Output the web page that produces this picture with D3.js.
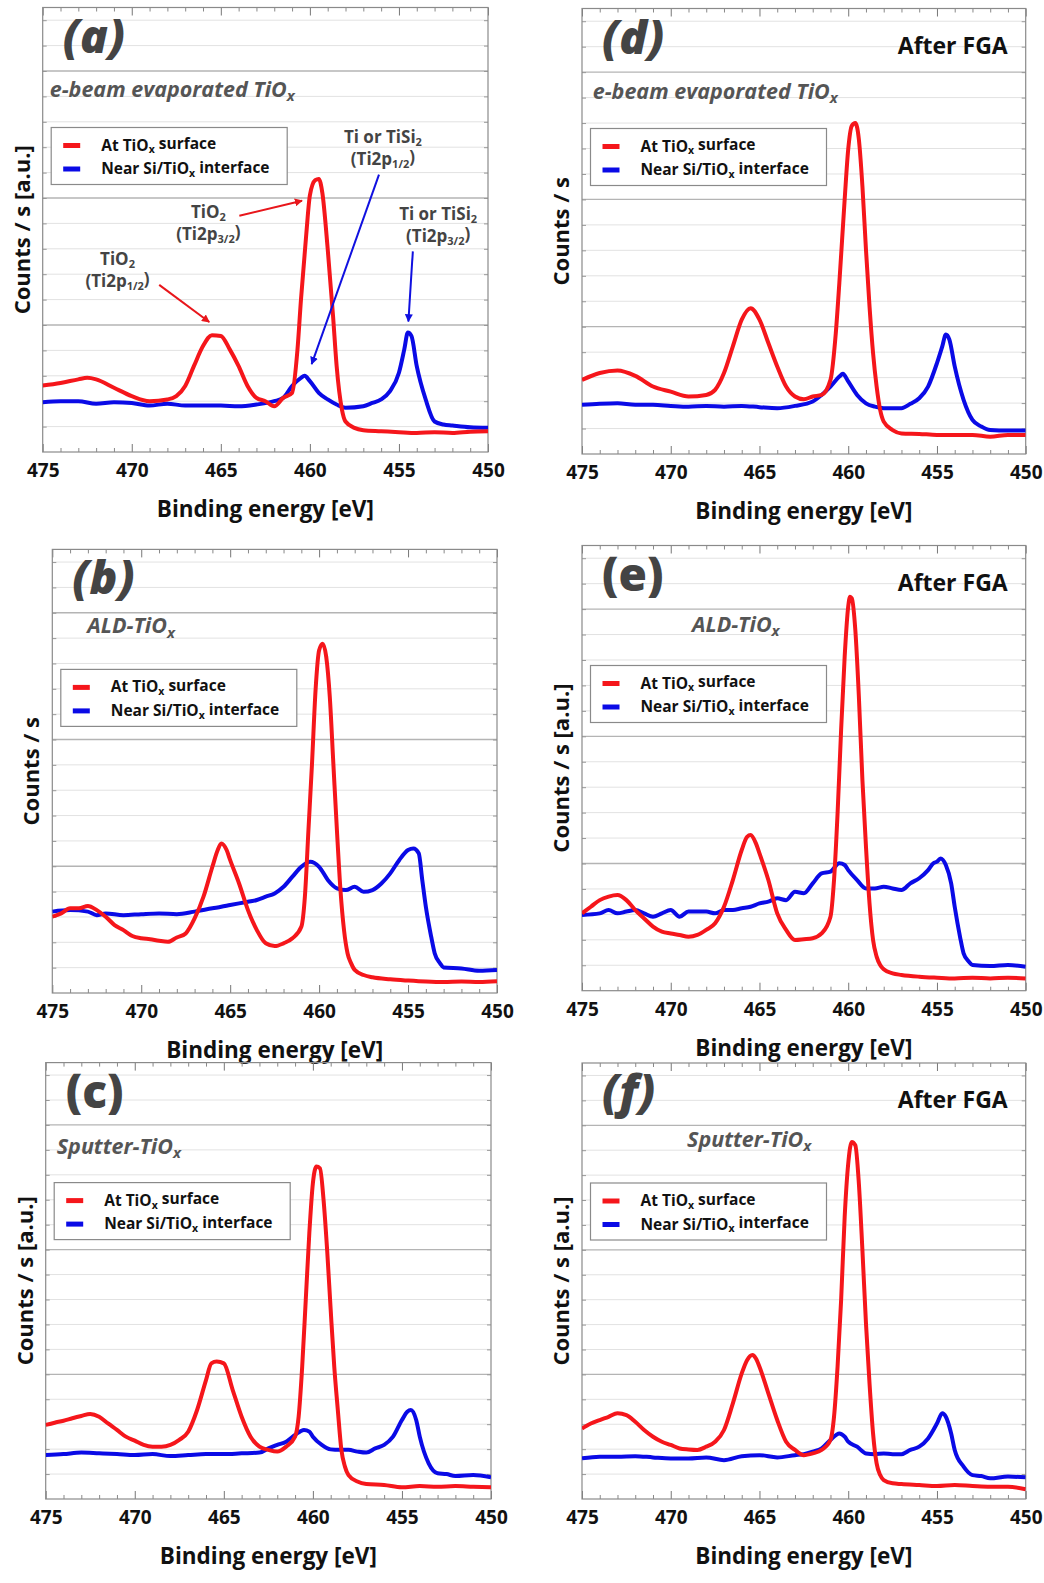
<!DOCTYPE html>
<html><head><meta charset="utf-8">
<script src="https://cdn.jsdelivr.net/npm/d3@7"></script>
<style>body{margin:0;background:#fff}</style>
</head><body><svg id="chart" width="1044" height="1583"></svg>
<script>
// ---------- data (binding energy eV, intensity in grid units) ----------
const energyTicks = [475, 470, 465, 460, 455, 450];
const seriesLabels = [["At TiO", "x", " surface"], ["Near Si/TiO", "x", " interface"]];

const surfaceA = [[475,2.62],[474,2.72],[473,2.86],[472.5,2.92],[472,2.86],[471,2.53],[470,2.2],[469,2.0],[468,2.07],[467.5,2.2],[467,2.6],[466.5,3.4],[466,4.17],[465.5,4.6],[465,4.57],[464.5,4.04],[464,3.38],[463.5,2.6],[463,2.13],[462.5,2.0],[462,1.8],[461.5,2.13],[461,2.33],[460.7,4.0],[460.5,6.0],[460.2,8.6],[460,10.1],[459.7,10.7],[459.5,10.75],[459.3,10.2],[459,8.0],[458.7,5.36],[458.5,3.4],[458.2,1.67],[458,1.2],[457.5,0.95],[457,0.86],[456,0.82],[455,0.78],[454,0.75],[453,0.78],[452,0.75],[451,0.8],[450,0.82]];
const interfaceA = [[475,1.96],[474,2.0],[473,2.0],[472,1.9],[471,1.96],[470,1.93],[469,1.83],[468,1.9],[467,1.83],[466,1.83],[465,1.83],[464,1.8],[463,1.87],[462,2.0],[461.5,2.13],[461,2.6],[460.5,2.92],[460.3,3.0],[460,2.79],[459.5,2.33],[459,2.07],[458.5,1.87],[458,1.74],[457,1.8],[456.5,1.93],[456,2.07],[455.5,2.4],[455,3.12],[454.7,4.04],[454.5,4.7],[454.3,4.57],[454,3.38],[453.5,2.07],[453,1.2],[452.5,1.08],[452,1.04],[451,0.97],[450,0.95]];

const surfaceB = [[475,3.01],[474.5,3.14],[474,3.34],[473.5,3.34],[473,3.43],[472.5,3.27],[472,3.01],[471.5,2.68],[471,2.48],[470.5,2.25],[470,2.16],[469.5,2.12],[469,2.06],[468.5,2.02],[468,2.19],[467.5,2.35],[467,2.94],[466.5,3.8],[466,4.98],[465.7,5.64],[465.5,5.9],[465.2,5.64],[465,5.24],[464.5,4.32],[464,3.27],[463.5,2.48],[463,1.96],[462.5,1.85],[462,1.96],[461.5,2.16],[461,2.61],[460.8,3.8],[460.6,6.43],[460.4,9.05],[460.2,11.95],[460,13.52],[459.8,13.78],[459.6,13.26],[459.4,11.68],[459.2,9.05],[459,6.43],[458.8,4.06],[458.6,2.48],[458.4,1.56],[458.2,1.17],[458,0.91],[457.5,0.71],[457,0.62],[456,0.54],[455,0.49],[454,0.45],[453,0.43],[452,0.45],[451,0.43],[450,0.46]];
const interfaceB = [[475,3.21],[474,3.27],[473,3.21],[472.5,3.07],[472,3.14],[471,3.07],[470,3.11],[469,3.14],[468,3.11],[467,3.21],[466,3.34],[465.5,3.4],[465,3.47],[464,3.6],[463.5,3.67],[463,3.8],[462.5,3.93],[462,4.19],[461.5,4.59],[461,4.98],[460.5,5.18],[460,4.98],[459.5,4.45],[459,4.13],[458.5,4.06],[458,4.19],[457.5,3.99],[457,4.06],[456.5,4.32],[456,4.72],[455.5,5.24],[455,5.64],[454.7,5.7],[454.4,5.51],[454.2,4.45],[454,3.4],[453.7,2.22],[453.5,1.56],[453.2,1.17],[453,1.01],[452,0.97],[451,0.88],[450,0.91]];

const surfaceC = [[475,2.97],[474.5,3.06],[474,3.14],[473.5,3.24],[473,3.33],[472.5,3.41],[472,3.3],[471.5,3.03],[471,2.77],[470.5,2.5],[470,2.34],[469.5,2.17],[469,2.1],[468.5,2.1],[468,2.17],[467.5,2.37],[467,2.7],[466.5,3.57],[466,4.77],[465.7,5.44],[465.4,5.51],[465,5.44],[464.5,4.37],[464,3.3],[463.5,2.5],[463,2.1],[462.5,1.97],[462,1.9],[461.5,2.1],[461,2.5],[460.8,3.3],[460.6,5.31],[460.4,7.98],[460.2,10.66],[460,12.66],[459.8,13.33],[459.6,13.26],[459.4,11.99],[459.2,9.99],[459,7.58],[458.8,5.31],[458.6,3.57],[458.4,1.97],[458.2,1.3],[458,0.96],[457.5,0.7],[457,0.6],[456,0.56],[455,0.47],[454,0.52],[453,0.49],[452,0.52],[451,0.49],[450,0.47]];
const interfaceC = [[475,1.76],[474,1.8],[473,1.86],[472,1.83],[471,1.8],[470,1.76],[469,1.8],[468,1.72],[467,1.76],[466,1.8],[465,1.8],[464,1.83],[463,1.86],[462.5,2.03],[462,2.17],[461.5,2.3],[461,2.57],[460.5,2.77],[460.2,2.7],[460,2.5],[459.5,2.17],[459,1.99],[458.5,1.97],[458,1.97],[457.5,1.9],[457,1.86],[456.5,2.03],[456,2.17],[455.5,2.5],[455,3.17],[454.7,3.5],[454.5,3.57],[454.2,3.17],[454,2.5],[453.5,1.43],[453,1.03],[452.5,1.0],[452,0.92],[451,0.96],[450,0.87]];

const surfaceD = [[475,2.91],[474,3.18],[473,3.28],[472,3.07],[471,2.65],[470,2.45],[469,2.26],[468,2.32],[467.5,2.52],[467,3.18],[466.5,4.23],[466,5.28],[465.5,5.73],[465,5.28],[464.5,4.36],[464,3.44],[463.5,2.65],[463,2.26],[462.5,2.15],[462,2.26],[461.5,2.32],[461,2.91],[460.7,4.75],[460.5,6.72],[460.2,10.0],[460,11.97],[459.8,12.89],[459.6,13.0],[459.4,12.36],[459.2,10.52],[459,8.03],[458.8,5.8],[458.6,3.96],[458.4,2.65],[458.2,1.73],[458,1.27],[457.5,0.94],[457,0.81],[456,0.79],[455,0.75],[454,0.75],[453,0.75],[452,0.68],[451,0.75],[450,0.75]];
const interfaceD = [[475,1.93],[474,1.97],[473,1.99],[472,1.93],[471,1.93],[470,1.89],[469,1.86],[468,1.89],[467,1.86],[466,1.89],[465,1.84],[464,1.8],[463,1.89],[462,2.06],[461.5,2.32],[461,2.65],[460.5,3.04],[460.3,3.15],[460,2.85],[459.5,2.32],[459,1.99],[458.5,1.86],[458,1.8],[457,1.8],[456.5,1.97],[456,2.19],[455.5,2.65],[455,3.57],[454.7,4.23],[454.5,4.69],[454.3,4.49],[454,3.44],[453.5,2.13],[453,1.34],[452.5,1.08],[452,0.94],[451,0.92],[450,0.92]];

const surfaceE = [[475,3.04],[474.5,3.3],[474,3.56],[473.5,3.7],[473,3.76],[472.5,3.56],[472,3.17],[471.5,2.84],[471,2.52],[470.5,2.32],[470,2.25],[469.5,2.19],[469,2.12],[468.5,2.19],[468,2.39],[467.5,2.65],[467,3.3],[466.5,4.35],[466,5.53],[465.7,6.05],[465.5,6.12],[465.2,5.79],[465,5.4],[464.5,4.35],[464,3.04],[463.5,2.39],[463,1.99],[462.5,2.02],[462,2.06],[461.5,2.25],[461,2.91],[460.8,4.35],[460.6,6.97],[460.4,10.25],[460.2,13.13],[460,15.1],[459.9,15.49],[459.8,15.43],[459.6,14.18],[459.4,11.56],[459.2,8.28],[459,5.66],[458.8,3.43],[458.6,1.99],[458.4,1.34],[458.2,1.01],[458,0.84],[457.5,0.68],[457,0.62],[456,0.55],[455,0.51],[454,0.48],[453,0.51],[452,0.48],[451,0.51],[450,0.48]];
const interfaceE = [[475,2.98],[474,3.04],[473.5,3.17],[473,3.04],[472.5,3.11],[472,3.17],[471.5,3.04],[471,2.91],[470.5,3.04],[470,3.17],[469.5,2.91],[469,3.11],[468,3.11],[467.5,3.04],[467,3.17],[466.5,3.17],[466,3.24],[465.5,3.3],[465,3.43],[464.5,3.5],[464,3.63],[463.5,3.56],[463,3.89],[462.5,3.83],[462,4.22],[461.5,4.61],[461,4.68],[460.5,5.01],[460.2,4.94],[460,4.74],[459.5,4.35],[459,4.02],[458.5,4.02],[458,4.09],[457.5,4.02],[457,3.96],[456.5,4.22],[456,4.42],[455.5,4.74],[455.2,5.01],[455,5.07],[454.8,5.2],[454.5,4.94],[454.2,4.22],[454,3.3],[453.7,2.12],[453.5,1.47],[453.2,1.14],[453,1.01],[452,0.97],[451,1.01],[450,0.94]];

const surfaceF = [[475,2.83],[474.5,3.03],[474,3.17],[473.5,3.3],[473,3.44],[472.5,3.37],[472,3.1],[471.5,2.77],[471,2.5],[470.5,2.3],[470,2.17],[469.5,2.03],[469,1.99],[468.5,1.97],[468,2.1],[467.5,2.3],[467,2.77],[466.5,3.84],[466,5.04],[465.7,5.57],[465.4,5.78],[465.2,5.64],[465,5.31],[464.5,4.24],[464,3.17],[463.5,2.3],[463,1.97],[462.5,1.76],[462,1.83],[461.5,1.97],[461,2.37],[460.8,3.3],[460.6,5.31],[460.4,7.98],[460.2,11.32],[460,13.46],[459.8,14.33],[459.6,14.2],[459.4,12.66],[459.2,9.99],[459,7.05],[458.8,4.64],[458.6,2.63],[458.4,1.43],[458.2,0.96],[458,0.76],[457.5,0.63],[457,0.6],[456,0.56],[455,0.52],[454,0.56],[453,0.52],[452,0.49],[451,0.49],[450,0.39]];
const interfaceF = [[475,1.63],[474,1.7],[473,1.7],[472,1.72],[471,1.67],[470,1.63],[469,1.63],[468,1.67],[467,1.56],[466,1.72],[465,1.76],[464,1.67],[463,1.76],[462.5,1.8],[462,1.9],[461.5,2.03],[461,2.37],[460.5,2.63],[460.2,2.5],[460,2.3],[459.5,2.1],[459,1.83],[458.5,1.8],[458,1.83],[457.5,1.8],[457,1.8],[456.5,1.97],[456,2.1],[455.5,2.43],[455,3.03],[454.7,3.44],[454.5,3.3],[454.2,2.63],[454,1.97],[453.5,1.3],[453,0.96],[452.5,0.92],[452,0.83],[451,0.9],[450,0.87]];

// annotations for panel (a): [energy, level]
const annotTexts = [
  {lines:[["Ti or TiSi","2",""],["(Ti2p","1/2",")"]], at:[455.9,12.18]},
  {lines:[["TiO","2",""],["(Ti2p","3/2",")"]], at:[465.7,9.22]},
  {lines:[["TiO","2",""],["(Ti2p","1/2",")"]], at:[470.8,7.37]},
  {lines:[["Ti or TiSi","2",""],["(Ti2p","3/2",")"]], at:[452.8,9.14]}
];
const annotArrows = [
  {from:[468.46,6.58], to:[465.65,5.12], c:"red"},
  {from:[463.96,9.30], to:[460.44,9.89], c:"red"},
  {from:[456.12,10.92], to:[459.9,3.46], c:"blue"},
  {from:[454.22,7.9], to:[454.47,5.14], c:"blue"}
];

// ---------- layout ----------
const FONT = "'Open Sans', Lato, 'DejaVu Sans', sans-serif";
const panels = [
  {id:"a", s:surfaceA, i:interfaceA, L:42.7, R:488, T:7.5, B:452, italic:true, sub:"e-beam evaporated TiO", subX:7, subY:89, yt:"Counts / s [a.u.]", fga:false, ann:true},
  {id:"b", s:surfaceB, i:interfaceB, L:52.3, R:497, T:549.4, B:993, italic:true, sub:"ALD-TiO", subX:35, subY:84, yt:"Counts / s", fga:false},
  {id:"c", s:surfaceC, i:interfaceC, L:45.7, R:491, T:1062.6, B:1499, italic:false, sub:"Sputter-TiO", subX:11, subY:91, yt:"Counts / s [a.u.]", fga:false},
  {id:"d", s:surfaceD, i:interfaceD, L:582, R:1025.7, T:8.5, B:454, italic:true, sub:"e-beam evaporated TiO", subX:10.7, subY:90, yt:"Counts / s", fga:true},
  {id:"e", s:surfaceE, i:interfaceE, L:582, R:1025.7, T:545.5, B:990.7, italic:false, sub:"ALD-TiO", subX:110, subY:86, yt:"Counts / s [a.u.]", fga:true},
  {id:"f", s:surfaceF, i:interfaceF, L:582, R:1025.7, T:1063, B:1499, italic:true, sub:"Sputter-TiO", subX:105, subY:84, yt:"Counts / s [a.u.]", fga:true}
];

const svg = d3.select("#chart").style("font-family", FONT);
svg.append("rect").attr("width",1044).attr("height",1583).attr("fill","#fff");
const defs = svg.append("defs");
["red","blue"].forEach(c => {
  defs.append("marker").attr("id","arr-"+c).attr("viewBox","0 0 10 10").attr("refX",9).attr("refY",5)
    .attr("markerWidth",4).attr("markerHeight",4).attr("orient","auto")
    .append("path").attr("d","M0,0L10,5L0,10z").attr("fill", c==="red"?"#e8161b":"#1010e0");
});

function rich(sel, parts, subSize){
  sel.append("tspan").text(parts[0]);
  if(parts[1]) sel.append("tspan").text(parts[1]).attr("font-size",subSize).attr("dy","0.28em");
  if(parts[2]) sel.append("tspan").text(parts[2]).attr("dy", parts[1] ? "-0.28em" : null);
}

panels.forEach(p => {
  const g = svg.append("g");
  const x = d3.scaleLinear().domain([475,450]).range([p.L,p.R]);
  const y = d3.scaleLinear().domain([0,17.5]).range([p.B,p.T]);
  const clipId = "clip-"+p.id;
  defs.append("clipPath").attr("id",clipId).append("rect")
    .attr("x",p.L).attr("y",p.T).attr("width",p.R-p.L).attr("height",p.B-p.T);

  // horizontal grid
  d3.range(1,18).forEach(u => {
    const major = u % 5 === 0;
    g.append("line").attr("x1",p.L).attr("x2",p.R).attr("y1",y(u)).attr("y2",y(u))
      .attr("stroke", major ? "#b4b4b4" : "#e2e2e2").attr("stroke-width", major ? 1.3 : 1);
  });
  // left/right small ticks
  const yMinor = d3.range(1,18);
  g.append("g").attr("transform",`translate(${p.L},0)`)
    .call(d3.axisLeft(y).tickValues(yMinor).tickSize(-4).tickFormat(""))
    .call(a=>a.select(".domain").remove()).selectAll("line").attr("stroke","#999");
  g.append("g").attr("transform",`translate(${p.R},0)`)
    .call(d3.axisRight(y).tickValues(yMinor).tickSize(-4).tickFormat(""))
    .call(a=>a.select(".domain").remove()).selectAll("line").attr("stroke","#999");

  // x ticks (top & bottom, inward)
  const minorE = d3.range(450,476,1).filter(v => v % 5 !== 0);
  [["B",d3.axisBottom],["T",d3.axisTop]].forEach(([k,ax]) => {
    const yy = k==="B" ? p.B : p.T;
    g.append("g").attr("transform",`translate(0,${yy})`)
      .call(ax(x).tickValues(minorE).tickSize(-4).tickFormat(""))
      .call(a=>a.select(".domain").remove()).selectAll("line").attr("stroke","#888");
    g.append("g").attr("transform",`translate(0,${yy})`)
      .call(ax(x).tickValues(energyTicks).tickSize(-8).tickFormat(""))
      .call(a=>a.select(".domain").remove()).selectAll("line").attr("stroke","#777");
  });
  // tick labels
  g.append("g").attr("transform",`translate(0,${p.B})`)
    .call(d3.axisBottom(x).tickValues(energyTicks).tickSize(0).tickPadding(12).tickFormat(d3.format("d")))
    .call(a=>a.select(".domain").remove())
    .selectAll("text").attr("font-family",FONT).attr("font-size",19).attr("font-weight","bold").attr("fill","#111");

  // frame
  g.append("rect").attr("x",p.L).attr("y",p.T).attr("width",p.R-p.L).attr("height",p.B-p.T)
    .attr("fill","none").attr("stroke","#8a8a8a").attr("stroke-width",1.2);

  // curves
  const line = d3.line().x(d=>x(d[0])).y(d=>y(d[1])).curve(d3.curveMonotoneX);
  const cg = g.append("g").attr("clip-path",`url(#${clipId})`);
  cg.append("path").datum(p.i).attr("d",line).attr("fill","none").attr("stroke","#0a0ae6")
    .attr("stroke-width",4).attr("stroke-linejoin","round");
  cg.append("path").datum(p.s).attr("d",line).attr("fill","none").attr("stroke","#f5161b")
    .attr("stroke-width",4).attr("stroke-linejoin","round");

  // panel letter
  g.append("text").attr("x",p.L+20).attr("y",p.T+45).attr("font-size",46).attr("font-weight","800")
    .attr("font-style", p.italic ? "italic" : "normal").attr("fill","#444").text(`(${p.id})`);

  // subtitle
  const st = g.append("text").attr("x",p.L+p.subX).attr("y",p.T+p.subY).attr("font-size",21.5)
    .attr("font-weight","bold").attr("font-style","italic").attr("fill","#555");
  rich(st,[p.sub,"x",""],15);

  if(p.fga){
    g.append("text").attr("x",p.R-18).attr("y",p.T+45).attr("text-anchor","end")
      .attr("font-size",23).attr("font-weight","bold").attr("fill","#111").text("After FGA");
  }

  // legend
  const lx = p.L+8.5, ly = p.T+120;
  g.append("rect").attr("x",lx).attr("y",ly).attr("width",236).attr("height",57)
    .attr("fill","#fff").attr("stroke","#8a8a8a").attr("stroke-width",1.2);
  ["#f5161b","#0a0ae6"].forEach((c,k) => {
    const yy = ly + 18 + k*23.5;
    g.append("line").attr("x1",lx+12).attr("x2",lx+29).attr("y1",yy).attr("y2",yy)
      .attr("stroke",c).attr("stroke-width",5);
    const t = g.append("text").attr("x",lx+50).attr("y",yy+5).attr("font-size",15.5)
      .attr("font-weight","bold").attr("fill","#111");
    rich(t, seriesLabels[k], 10.5);
  });

  // axis titles
  g.append("text").attr("transform",`translate(${p.L-21},${(p.T+p.B)/2}) rotate(-90)`)
    .attr("text-anchor","middle").attr("dy","0.36em").attr("font-size",22).attr("font-weight","bold")
    .attr("fill","#111").text(p.yt);
  g.append("text").attr("x",(p.L+p.R)/2).attr("y",p.B+65).attr("text-anchor","middle")
    .attr("font-size",22.5).attr("font-weight","bold").attr("fill","#111").text("Binding energy [eV]");

  // annotations
  if(p.ann){
    annotArrows.forEach(a => {
      g.append("line").attr("x1",x(a.from[0])).attr("y1",y(a.from[1]))
        .attr("x2",x(a.to[0])).attr("y2",y(a.to[1]))
        .attr("stroke", a.c==="red" ? "#e8161b" : "#1010e0").attr("stroke-width",2)
        .attr("marker-end",`url(#arr-${a.c})`);
    });
    annotTexts.forEach(a => {
      a.lines.forEach((ln,k) => {
        const t = g.append("text").attr("x",x(a.at[0])).attr("y",y(a.at[1]) + k*22)
          .attr("text-anchor","middle").attr("font-size",17).attr("font-weight","bold").attr("fill","#444");
        rich(t, ln, 11);
      });
    });
  }
});
</script></body></html>
